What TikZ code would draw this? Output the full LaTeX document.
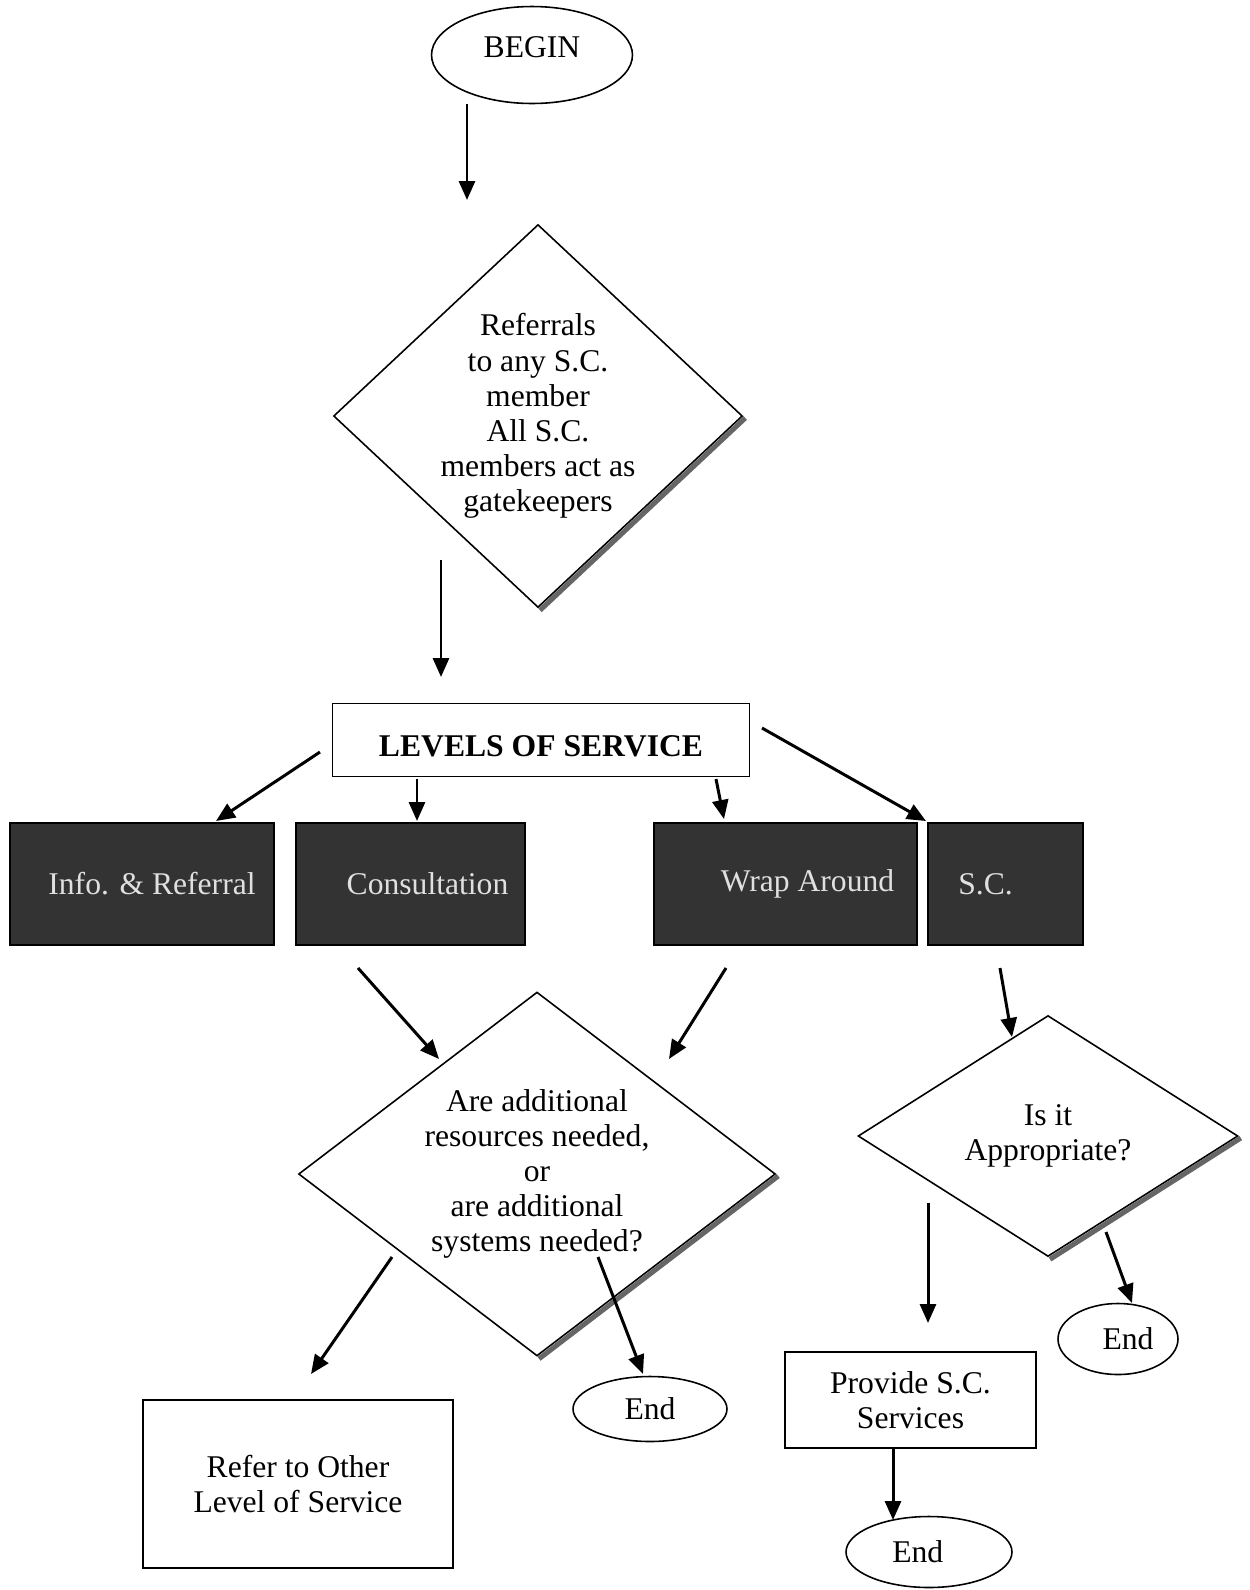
\documentclass[tikz,border=0pt]{standalone}
\usepackage{fontspec}
\setmainfont{Liberation Serif}
\usepackage{tikz}
\usetikzlibrary{positioning,shapes.geometric,arrows.meta}

\tikzset{
	term/.style={draw, ellipse, line width=0.9pt, inner sep=0pt},
	choice/.style={draw, diamond, line width=0.9pt, inner sep=0pt, align=center},
	plainbox/.style={draw, rectangle, line width=0.9pt, align=center},
	darkbox/.style={draw=black, fill=black!80, text=black!12, line width=1.2pt},
	arr/.style={line width=1.7pt, -{Triangle[length=0.38cm,width=0.32cm]}},
	shadowline/.style={line width=0.1cm, black!60}
}

\begin{document}
\begin{tikzpicture}[x=0.02cm, y=-0.02cm, font=\fontsize{18}{20}\selectfont]
\useasboundingbox (0,0) rectangle (1250,1590);

% start and first question
\node[term, minimum width=4.02cm, minimum height=1.94cm](begin) at (532,55) {\raisebox{-0.05cm}[0pt][0pt]{BEGIN}};
\node[choice, shape aspect=1.07, inner sep=-3pt, minimum width=8.18cm, minimum height=7.66cm](ask) at (538,416)
	{Referrals\\to any S.C.\\member\\All S.C.\\members act as\\gatekeepers};
\node[plainbox, minimum width=8.34cm, minimum height=1.46cm](levels) at (541,740) {\raisebox{-0.33cm}[0pt][0pt]{\textbf{LEVELS OF SERVICE}}};

% levels
\node[darkbox, minimum width=5.28cm, minimum height=2.44cm](info) at (142,884) {\hspace*{0.4cm}Info. \& Referral};
\node[darkbox, minimum width=4.58cm, minimum height=2.44cm](consult) at (410.5,884) {\hspace*{0.68cm}Consultation};
\node[darkbox, minimum width=5.26cm, minimum height=2.44cm](wrap) at (785.5,884) {\hspace*{0.88cm}Wrap Around};
\node[darkbox, minimum width=3.1cm, minimum height=2.44cm](sc) at (1005.5,884) {S.C.\hspace*{0.8cm}};

% second questions
\node[choice, shape aspect=1.31, minimum width=9.54cm, minimum height=7.28cm](need) at (537,1174)
	{Are additional\\resources needed,\\or\\are additional\\systems needed?};
\node[choice, shape aspect=1.58, minimum width=7.6cm, minimum height=4.82cm](fit) at (1048,1136) {Is it\\Appropriate?};

% outcomes
\node[plainbox, minimum width=6.2cm, minimum height=3.36cm](refer) at (298,1484) {Refer to Other\\Level of Service};
\node[term, minimum width=3.08cm, minimum height=1.3cm](end1) at (650,1409) {End};
\node[term, minimum width=2.4cm, minimum height=1.42cm](end2) at (1118,1339) {\hspace*{0.4cm}End};
\node[plainbox, minimum width=5.02cm, minimum height=1.92cm](provide) at (910.5,1400) {Provide S.C.\\Services};
\node[term, minimum width=3.32cm, minimum height=1.42cm](end3) at (929,1552) {End\hspace*{0.45cm}};

% shadows
\foreach \d in {ask,need,fit}
	\draw[shadowline] ([shift={(2,2)}]\d.east) -- ([shift={(2,2)}]\d.south);

% arrow ends
\coordinate (a1) at (467,104);  \coordinate (b1) at (467,200);
\coordinate (a2) at (441,560);  \coordinate (b2) at (441,677);
\coordinate (a3) at (320,752);  \coordinate (b3) at (216,821);
\coordinate (a4) at (417,779);  \coordinate (b4) at (417,821);
\coordinate (a5) at (716,779);  \coordinate (b5) at (724,819);
\coordinate (a6) at (762,728);  \coordinate (b6) at (926,821);
\coordinate (a7) at (358,968);  \coordinate (b7) at (439,1059);
\coordinate (a8) at (726,968);  \coordinate (b8) at (669,1059);
\coordinate (a9) at (392,1257); \coordinate (b9) at (311,1374);
\coordinate (a10) at (598,1257); \coordinate (b10) at (643,1374);
\coordinate (a11) at (1000,968); \coordinate (b11) at (1012,1037);
\coordinate (a12) at (928,1203); \coordinate (b12) at (928,1323);
\coordinate (a13) at (1106,1232); \coordinate (b13) at (1132,1303);
\coordinate (a14) at (893,1448); \coordinate (b14) at (893,1520);

\foreach \i in {1,...,14}
	\draw[arr] (a\i) -- (b\i);
\end{tikzpicture}
\end{document}
